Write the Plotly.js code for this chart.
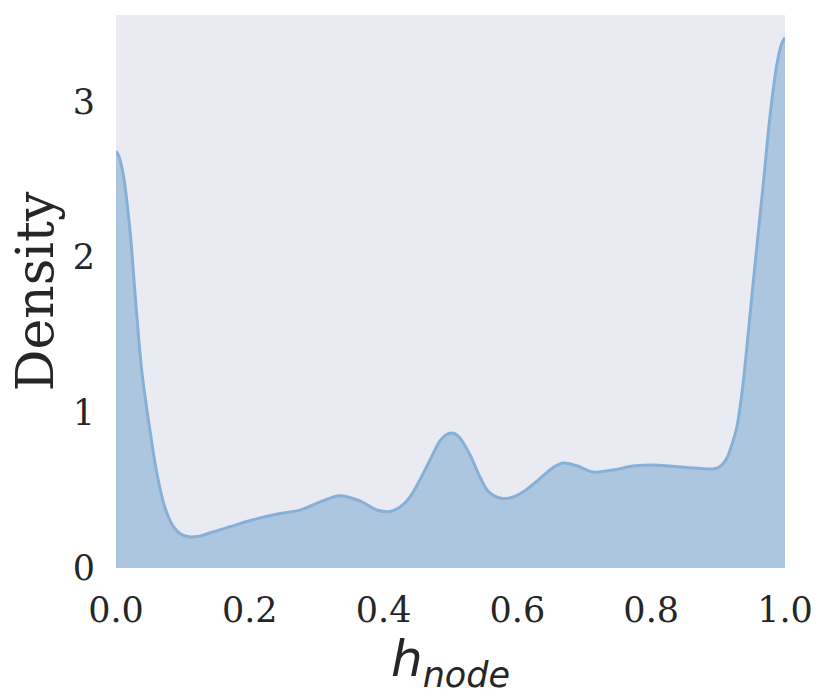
<!DOCTYPE html>
<html>
<head>
<meta charset="utf-8">
<script src="https://cdn.plot.ly/plotly-3.0.1.min.js"></script>
<style>
  body { margin: 0; background: #ffffff; }
  #chart { width: 830px; height: 697px; }
</style>
</head>
<body>
<div id="chart"></div>
<script>
// KDE curve of h_node
const hNode = [0, 0.004, 0.008, 0.012, 0.017, 0.022, 0.030, 0.039, 0.053, 0.061,
    0.073, 0.086, 0.098, 0.111, 0.125, 0.14, 0.17, 0.205, 0.245, 0.275,
    0.305, 0.335, 0.365, 0.39, 0.41, 0.43, 0.443, 0.454, 0.47, 0.484,
    0.493, 0.502, 0.511, 0.519, 0.53, 0.544, 0.555, 0.564, 0.574, 0.584,
    0.596, 0.609, 0.624, 0.639, 0.655, 0.669, 0.689, 0.713, 0.743, 0.773,
    0.803, 0.828, 0.858, 0.88, 0.895, 0.905, 0.913, 0.92, 0.928, 0.933,
    0.938, 0.948, 0.958, 0.968, 0.978, 0.988, 0.995, 1.0];
const density = [2.68, 2.65, 2.59, 2.50, 2.33, 2.12, 1.68, 1.25, 0.82, 0.61,
    0.39, 0.265, 0.215, 0.20, 0.205, 0.225, 0.265, 0.31, 0.35, 0.372,
    0.425, 0.465, 0.43, 0.373, 0.363, 0.41, 0.48, 0.565, 0.70, 0.815,
    0.855, 0.868, 0.85, 0.805, 0.72, 0.585, 0.50, 0.467, 0.45, 0.447,
    0.46, 0.49, 0.54, 0.595, 0.65, 0.675, 0.657, 0.617, 0.63, 0.655,
    0.662, 0.656, 0.645, 0.638, 0.638, 0.66, 0.705, 0.785, 0.905, 1.04,
    1.21, 1.64, 2.07, 2.49, 2.92, 3.24, 3.37, 3.41];
const yTicks = [0, 1, 2, 3];
const xTicks = [0, 0.2, 0.4, 0.6, 0.8, 1.0];

const trace = {
    x: hNode,
    y: density,
    type: 'scatter',
    mode: 'lines',
    fill: 'tozeroy',
    fillcolor: 'rgb(173,198,223)',
    line: { color: 'rgb(134,176,214)', width: 3, shape: 'spline', smoothing: 1 },
    hoverinfo: 'skip'
};

const tickFont = { family: 'DejaVu Serif', size: 35, color: '#262626' };

const layout = {
    width: 830,
    height: 697,
    margin: { l: 116, r: 45, t: 15, b: 129, pad: 0 },
    paper_bgcolor: '#ffffff',
    plot_bgcolor: '#eaeaf2',
    showlegend: false,
    xaxis: {
        range: [0, 1],
        tickvals: xTicks,
        ticktext: xTicks.map(v => v.toFixed(1)),
        tickfont: tickFont,
        showgrid: false,
        zeroline: false,
        showline: false,
        ticks: '',
        ticklabelstandoff: 18,
        title: {
            text: '<i>h</i><sub><i>node</i></sub>',
            font: { family: 'DejaVu Sans', size: 50, color: '#262626' },
            standoff: 8
        }
    },
    yaxis: {
        range: [0, 3.555],
        tickvals: yTicks,
        tickfont: tickFont,
        showgrid: false,
        zeroline: false,
        showline: false,
        ticks: '',
        ticklabelstandoff: 20,
        title: {
            text: 'Density',
            font: { family: 'DejaVu Serif', size: 52, color: '#262626' },
            standoff: 2
        }
    }
};

Plotly.newPlot('chart', [trace], layout, { displayModeBar: false, staticPlot: true });
</script>
</body>
</html>
